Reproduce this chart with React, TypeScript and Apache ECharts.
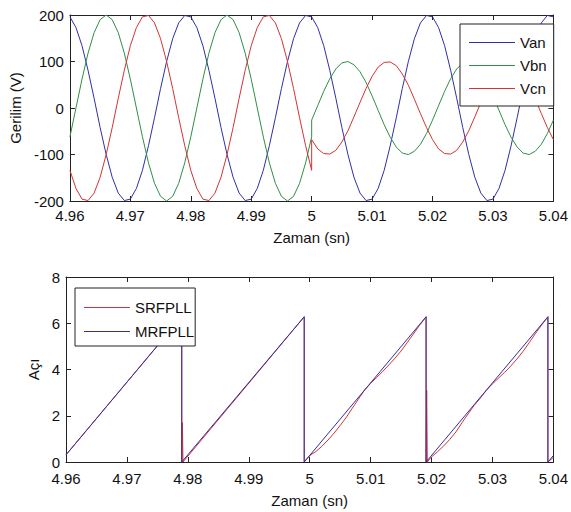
import React, { useEffect, useRef } from "react";
import * as echarts from "echarts";

// ---------- Top plot: phase voltages (V), sampled every 1 ms ----------
const T_START = 4.96;
const T_STEP = 0.001;
const timeGrid: number[] = Array.from({ length: 81 }, (_, i) => +(T_START + i * T_STEP).toFixed(3));
const tPre = timeGrid.slice(0, 41); // 4.960 .. 5.000
const tPost = timeGrid.slice(40); // 5.000 .. 5.040

const vanValues = [
  196, 173, 134, 81, 21, -42, -100, -149, -183, -199, -196, -173, -134, -81, -21, 42, 100, 149, 183, 199,
  196, 173, 134, 81, 21, -42, -100, -149, -183, -199, -196, -173, -134, -81, -21, 42, 100, 149, 183, 199,
  196, 173, 134, 81, 21, -42, -100, -149, -183, -199, -196, -173, -134, -81, -21, 42, 100, 149, 183, 199,
  196, 173, 134, 81, 21, -42, -100, -149, -183, -199, -196, -173, -134, -81, -21, 42, 100, 149, 183, 199,
  196,
];
const vbnPre = [
  -62, 0, 62, 118, 162, 190, 200, 190, 162, 118, 62, 0, -62, -118, -162, -190, -200, -190, -162, -118,
  -62, 0, 62, 118, 162, 190, 200, 190, 162, 118, 62, 0, -62, -118, -162, -190, -200, -190, -162, -118,
  -62,
];
const vbnPost = [
  -26, 5, 36, 63, 84, 97, 100, 93, 78, 55, 26, -5, -36, -63, -84, -97, -100, -93, -78, -55,
  -26, 5, 36, 63, 84, 97, 100, 93, 78, 55, 26, -5, -36, -63, -84, -97, -100, -93, -78, -55,
  -26,
];
const vcnPre = [
  -134, -173, -196, -199, -183, -149, -100, -42, 21, 81, 134, 173, 196, 199, 183, 149, 100, 42, -21, -81,
  -134, -173, -196, -199, -183, -149, -100, -42, 21, 81, 134, 173, 196, 199, 183, 149, 100, 42, -21, -81,
  -134,
];
const vcnPost = [
  -68, -88, -98, -99, -91, -73, -49, -19, 12, 42, 68, 88, 98, 99, 91, 73, 49, 19, -12, -42,
  -68, -88, -98, -99, -91, -73, -49, -19, 12, 42, 68, 88, 98, 99, 91, 73, 49, 19, -12, -42,
  -68,
];

// ---------- Bottom plot: PLL angle (rad) ----------
const srfTimes = [
  4.96, 4.979, 4.979, 4.9791, 4.9791, 4.9792, 4.9991, 4.9991,
  5.0, 5.001, 5.002, 5.003, 5.004, 5.005, 5.006, 5.007, 5.008, 5.009, 5.01, 5.011, 5.012, 5.013, 5.014, 5.015, 5.016, 5.017, 5.018, 5.019,
  5.0191, 5.0191, 5.0192, 5.0192, 5.0193,
  5.02, 5.021, 5.022, 5.023, 5.024, 5.025, 5.026, 5.027, 5.028, 5.029, 5.03, 5.031, 5.032, 5.033, 5.034, 5.035, 5.036, 5.037, 5.038, 5.039,
  5.0391, 5.0391, 5.04,
];
const srfValues = [
  0.31, 6.28, 0, 0, 1.7, 0, 6.28, 0,
  0.28, 0.45, 0.68, 0.95, 1.25, 1.58, 1.93, 2.33, 2.72, 3.11, 3.4, 3.66, 3.92, 4.2, 4.49, 4.8, 5.16, 5.53, 5.9, 6.24,
  6.28, 0, 0, 3.1, 0,
  0.22, 0.45, 0.7, 0.98, 1.3, 1.7, 2.08, 2.45, 2.76, 3.1, 3.38, 3.63, 3.88, 4.15, 4.45, 4.78, 5.15, 5.54, 5.9, 6.24,
  6.28, 0, 0.2,
];
const mrfTimes = [4.96, 4.979, 4.979, 4.9991, 4.9991, 5.0191, 5.0191, 5.0391, 5.0391, 5.04];
const mrfValues = [0.31, 6.28, 0, 6.28, 0, 6.28, 0, 6.28, 0, 0.28];

const xTicks = { min: 4.96, max: 5.04, interval: 0.01 };
const voltTicks = { min: -200, max: 200, interval: 100 };
const angleTicks = { min: 0, max: 8, interval: 2 };

const BLUE = "#2f2fa6";
const GREEN = "#2f8f45";
const RED = "#d23434";
const FONT = "'Liberation Sans', Arial, sans-serif";

const pair = (ts: number[], vs: number[]) => ts.map((t, i) => [t, vs[i]]);

function App() {
  const ref = useRef<HTMLDivElement>(null);
  useEffect(() => {
    if (!ref.current) return;
    const chart = echarts.init(ref.current, undefined, { renderer: "svg" });
    const axisLine = { show: true, onZero: false, lineStyle: { color: "#222", width: 1 } };
    const tick = { show: true, inside: true, length: 5, lineStyle: { color: "#222", width: 1 } };
    const label = { color: "#111", fontSize: 15, fontFamily: FONT, lineHeight: 13 };
    const xFmt = (v: number) => String(+v.toFixed(2));
    const nameStyle = { color: "#111", fontSize: 15, fontFamily: FONT };
    const mkX = (gridIndex: number, margin: number, nameGap: number) => [
      {
        type: "value", gridIndex, ...xTicks, position: "bottom",
        axisLine, axisTick: tick, splitLine: { show: false },
        axisLabel: { ...label, margin, formatter: xFmt, showMinLabel: true, showMaxLabel: true },
        name: "Zaman (sn)", nameLocation: "middle", nameGap, nameTextStyle: nameStyle,
      },
      {
        type: "value", gridIndex, ...xTicks, position: "top",
        axisLine, axisTick: tick, splitLine: { show: false }, axisLabel: { show: false },
      },
    ];
    const mkY = (gridIndex: number, ticks: any, name: string, gap: number) => [
      {
        type: "value", gridIndex, ...ticks, position: "left",
        axisLine, axisTick: tick, splitLine: { show: false },
        axisLabel: { ...label, margin: 6 },
        name, nameLocation: "middle", nameGap: gap, nameTextStyle: nameStyle,
      },
      {
        type: "value", gridIndex, ...ticks, position: "right",
        axisLine, axisTick: tick, splitLine: { show: false }, axisLabel: { show: false },
      },
    ];
    const line = (name: string, color: string, data: any[], xi: number, yi: number) => ({
      type: "line", name, data, xAxisIndex: xi, yAxisIndex: yi,
      symbol: "none", showSymbol: false, smooth: false,
      lineStyle: { color, width: 1 }, itemStyle: { color }, clip: true,
    });
    chart.setOption({
      animation: false,
      backgroundColor: "#fff",
      grid: [
        { left: 66, right: 12, top: 15, height: 186 },
        { left: 66, right: 12, top: 277, height: 185 },
      ],
      xAxis: [...mkX(0, 8, 29), ...mkX(1, 10, 31)],
      yAxis: [...mkY(0, voltTicks, "Gerilim (V)", 42), ...mkY(1, angleTicks, "Açı", 20)],
      legend: [
        {
          data: ["Van", "Vbn", "Vcn"], orient: "vertical", left: 460, top: 24,
          icon: "rect", itemWidth: 46, itemHeight: 1.2, itemGap: 6,
          padding: [10, 7, 9, 9], borderColor: "#222", borderWidth: 1, backgroundColor: "#fff",
          textStyle: { color: "#111", fontSize: 15, fontFamily: FONT, lineHeight: 17 }, selectedMode: false,
        },
        {
          data: ["SRFPLL", "MRFPLL"], orient: "vertical", left: 75, top: 288,
          icon: "rect", itemWidth: 46, itemHeight: 1.2, itemGap: 7,
          padding: [11, 1, 6, 9], borderColor: "#222", borderWidth: 1, backgroundColor: "#fff",
          textStyle: { color: "#111", fontSize: 15, fontFamily: FONT, lineHeight: 17 }, selectedMode: false,
        },
      ],
      series: [
        line("Van", BLUE, pair(timeGrid, vanValues), 0, 0),
        line("Vbn", GREEN, pair(tPre, vbnPre).concat(pair(tPost, vbnPost)), 0, 0),
        line("Vcn", RED, pair(tPre, vcnPre).concat(pair(tPost, vcnPost)), 0, 0),
        line("SRFPLL", RED, pair(srfTimes, srfValues), 2, 2),
        line("MRFPLL", BLUE, pair(mrfTimes, mrfValues), 2, 2),
      ],
    });
    return () => chart.dispose();
  }, []);
  return (
    <div
      ref={ref}
      style={{ position: "fixed", left: 0, top: 0, width: 571, height: 512, background: "#fff" }}
    />
  );
}

export default App;
